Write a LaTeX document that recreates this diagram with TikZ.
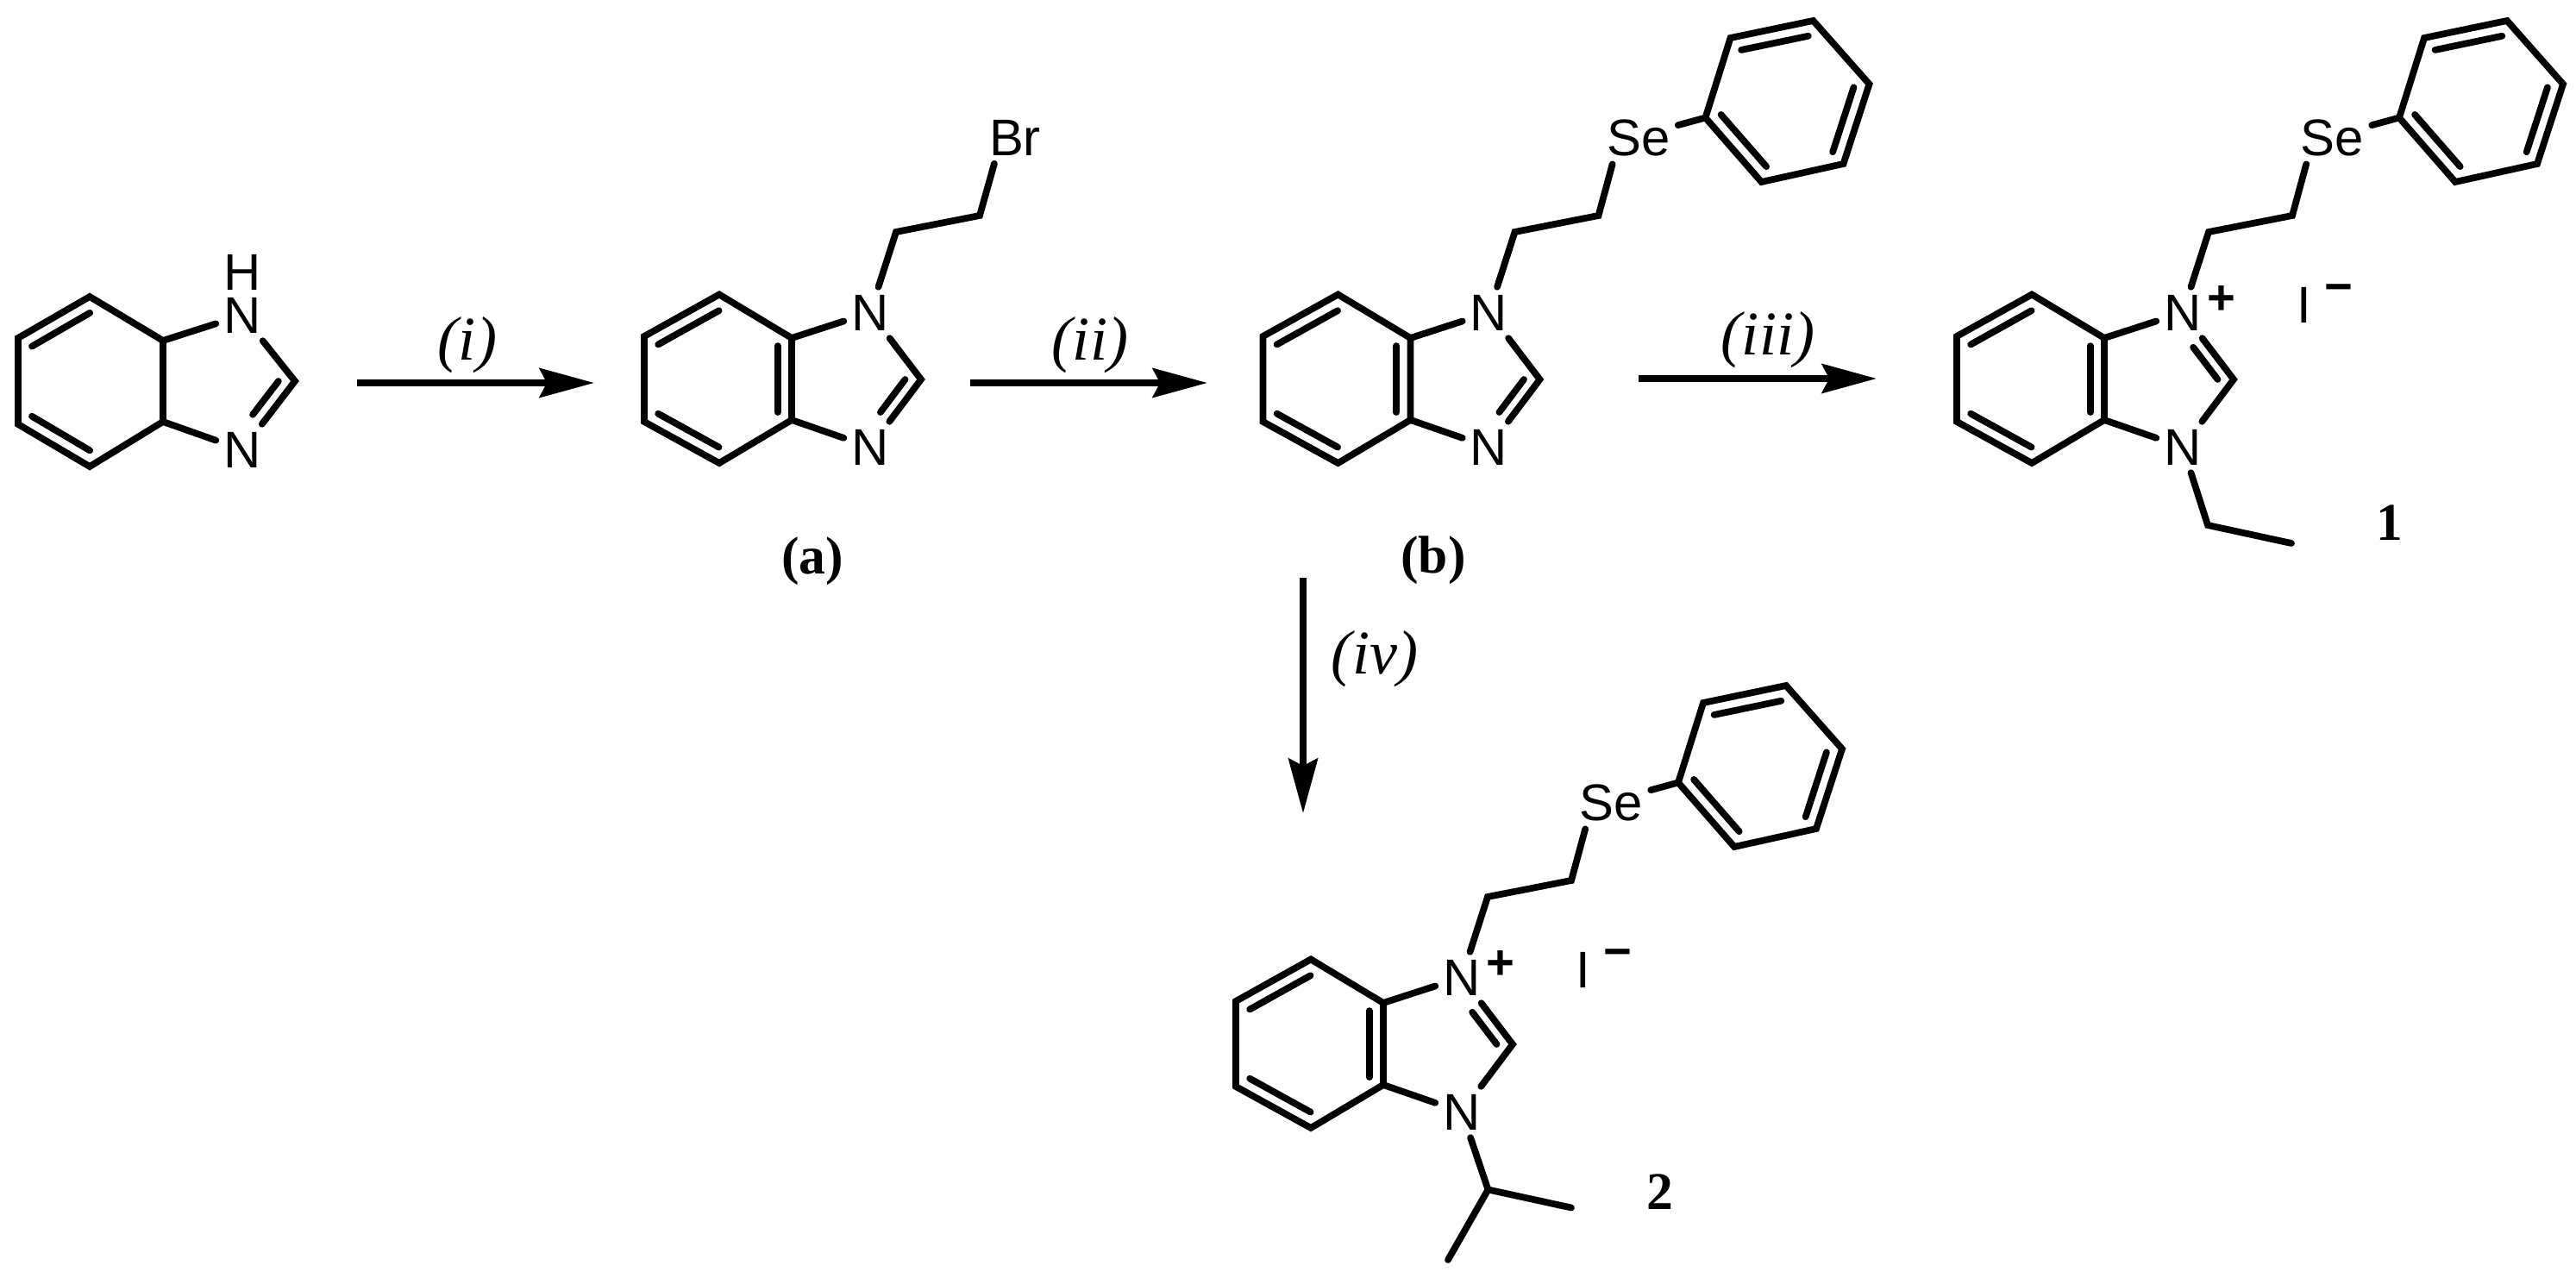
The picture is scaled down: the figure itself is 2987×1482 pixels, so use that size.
\documentclass[tikz,border=0pt]{standalone}
\usepackage{fontspec}
\setmainfont{Liberation Sans}
\newfontfamily\timesfont{Liberation Serif}
\usetikzlibrary{arrows.meta, calc}

\tikzset{
  bond/.style={line width=2.2pt, line cap=round},
  atom/.style={inner sep=0pt, outer sep=2.6pt, font=\fontsize{17pt}{17pt}\selectfont},
  charge/.style={inner sep=0pt, anchor=base, font=\fontsize{16pt}{16pt}\bfseries},
  rxnarrow/.style={-{Stealth[length=18pt, width=9.6pt, inset=2.4pt]}, line width=2.2pt},
  rxnlabel/.style={inner sep=0pt, font=\fontsize{20.5pt}{20.5pt}\timesfont\itshape},
  cmpdlabel/.style={inner sep=0pt, font=\fontsize{17.5pt}{17.5pt}\timesfont\bfseries}
}

% second stroke of a double bond, pulled towards the middle of its ring
\newcommand{\inbond}[4]{\draw[bond] ($(#1)!#4!(#3)$) -- ($(#2)!#4!(#3)$);}

% #1 name prefix, #2 the N that carries the C=N bond
\newcommand{\benzimid}[2]{
  \coordinate (#1v1) at (834,341.5);
  \coordinate (#1v2) at (747,390);
  \coordinate (#1v3) at (747,489);
  \coordinate (#1v4) at (834,537);
  \coordinate (#1v5) at (918,487);
  \coordinate (#1v6) at (918,392);
  \coordinate (#1mid) at (832,440);
  \coordinate (#1c2) at (1068,440);
  \coordinate (#1hub) at (984,440);
  \node[atom] (#1n1) at (1009,362.5) {N};
  \node[atom] (#1n3) at (1009,518.5) {N};
  \draw[bond] (#1v1) -- (#1v2) -- (#1v3) -- (#1v4) -- (#1v5) -- (#1v6) -- cycle;
  \inbond{#1v1}{#1v2}{#1mid}{.19}
  \inbond{#1v3}{#1v4}{#1mid}{.19}
  \inbond{#1v5}{#1v6}{#1mid}{.19}
  \draw[bond] (#1v6) -- (#1n1);
  \draw[bond] (#1v5) -- (#1n3);
  \draw[bond] (#1n1) -- (#1c2) -- (#1n3);
  \path (#1c2) -- (#1#2) coordinate[pos=1] (#1dbl);
  \inbond{#1dbl}{#1c2}{#1hub}{.22}
}

% ethyl chain from N1 with the selenium and its phenyl ring
\newcommand{\selchain}[1]{
  \coordinate (#1e1) at (1039,269);
  \coordinate (#1e2) at (1136,250);
  \node[atom] (#1se) at (1182.5,160) {Se};
  \draw[bond] (#1n1) -- (#1e1) -- (#1e2) -- (#1se.225);
  \coordinate (#1p1) at (1260,136.5);
  \coordinate (#1p2) at (1289,44);
  \coordinate (#1p3) at (1385,24);
  \coordinate (#1p4) at (1450,97.5);
  \coordinate (#1p5) at (1420,190);
  \coordinate (#1p6) at (1325,211);
  \coordinate (#1pm) at (1355,117.5);
  \draw[bond] (#1se.18) -- (#1p1);
  \draw[bond] (#1p1) -- (#1p2) -- (#1p3) -- (#1p4) -- (#1p5) -- (#1p6) -- cycle;
  \inbond{#1p2}{#1p3}{#1pm}{.19}
  \inbond{#1p4}{#1p5}{#1pm}{.19}
  \inbond{#1p6}{#1p1}{#1pm}{.19}
}

% the charges and the iodide of the salts
\newcommand{\iodide}[1]{
  \node[charge] (#1plus) at (1054,364.5) {+};
  \node[atom] (#1i) at (1150,354) {I};
  \node[charge] (#1minus) at (1189.5,351) {−};
}

\begin{document}
\begin{tikzpicture}[x=0.01cm, y=-0.01cm]
  \useasboundingbox (0,0) rectangle (2987,1482);

  % starting material
  \coordinate (sv1) at (104,344);
  \coordinate (sv2) at (21,392);
  \coordinate (sv3) at (21,492);
  \coordinate (sv4) at (104,541);
  \coordinate (sv5) at (189,489);
  \coordinate (sv6) at (189,395);
  \coordinate (smid) at (105,443);
  \coordinate (sc2) at (342,442);
  \coordinate (shub) at (255,442);
  \node[atom, outer sep=0pt] (sh) at (281,315.5) {H};
  \node[atom] (sn1) at (281,365.5) {N};
  \node[atom] (sn3) at (281,521.5) {N};
  \draw[bond] (sv1) -- (sv2) -- (sv3) -- (sv4) -- (sv5) -- (sv6) -- cycle;
  \inbond{sv1}{sv2}{smid}{.19}
  \inbond{sv3}{sv4}{smid}{.19}
  \draw[bond] (sv6) -- (sn1);
  \draw[bond] (sv5) -- (sn3);
  \draw[bond] (sn1) -- (sc2) -- (sn3);
  \path (sc2) -- (sn3) coordinate[pos=1] (sdbl);
  \inbond{sdbl}{sc2}{shub}{.22}

  % (a)
  \benzimid{ma}{n3}
  \coordinate (mae1) at (1039,269);
  \coordinate (mae2) at (1136,250);
  \node[atom] (mabr) at (1177,160) {Br};
  \draw[bond] (man1) -- (mae1) -- (mae2) -- (mabr.231);
  \node[cmpdlabel] (laba) at (942,651) {(a)};

  % (b)
  \begin{scope}[shift={(717.5,0)}]
    \benzimid{mb}{n3}
    \selchain{mb}
  \end{scope}
  \node[cmpdlabel] (labb) at (1662,650) {(b)};

  % 1
  \begin{scope}[shift={(1522,0)}]
    \benzimid{mc}{n1}
    \selchain{mc}
    \iodide{mc}
    \coordinate (mcq1) at (1038,609);
    \coordinate (mcq2) at (1135,630);
    \draw[bond] (mcn3) -- (mcq1) -- (mcq2);
  \end{scope}
  \node[cmpdlabel] (lab1) at (2771,606) {1};

  % 2
  \begin{scope}[shift={(686,771)}]
    \benzimid{md}{n1}
    \selchain{md}
    \iodide{md}
    \coordinate (mdq1) at (1039.5,608.5);
    \coordinate (mdq2) at (1136,629.5);
    \coordinate (mdq3) at (993,690);
    \draw[bond] (mdn3) -- (mdq1) -- (mdq2);
    \draw[bond] (mdq1) -- (mdq3);
  \end{scope}
  \node[cmpdlabel] (lab2) at (1924.5,1382.5) {2};

  % reaction arrows
  \coordinate (ar1s) at (414,444);
  \coordinate (ar1e) at (689,444);
  \coordinate (ar2s) at (1125,444);
  \coordinate (ar2e) at (1400,444);
  \coordinate (ar3s) at (1900,439);
  \coordinate (ar3e) at (2176,439);
  \coordinate (ar4s) at (1511,670);
  \coordinate (ar4e) at (1511,943);
  \draw[rxnarrow] (ar1s) -- (ar1e);
  \draw[rxnarrow] (ar2s) -- (ar2e);
  \draw[rxnarrow] (ar3s) -- (ar3e);
  \draw[rxnarrow] (ar4s) -- (ar4e);
  \node[rxnlabel] (lbi) at (542,400) {(i)};
  \node[rxnlabel] (lbii) at (1264,400) {(ii)};
  \node[rxnlabel] (lbiii) at (2050,394) {(iii)};
  \node[rxnlabel] (lbiv) at (1594,764) {(iv)};
\end{tikzpicture}
\end{document}
